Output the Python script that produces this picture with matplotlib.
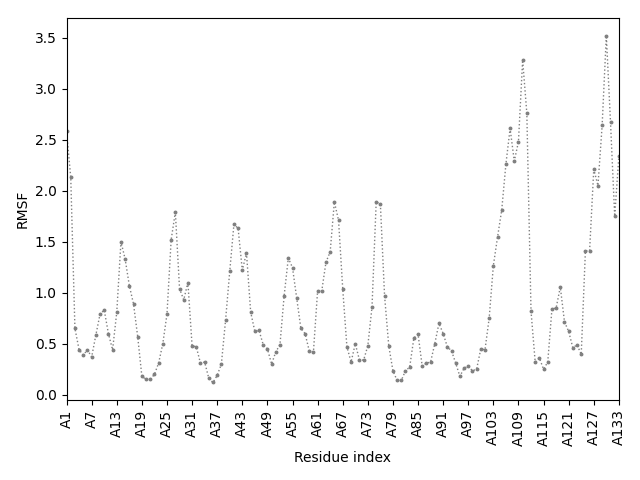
import numpy as np
import matplotlib
matplotlib.use("Agg")
import matplotlib.pyplot as plt

# RMSF per residue (A1..A133)
rmsf = [
    2.58, 2.13, 0.65, 0.44, 0.39, 0.44, 0.37, 0.585, 0.79, 0.83,
    0.60, 0.44, 0.81, 1.50, 1.33, 1.07, 0.89, 0.57, 0.18, 0.15,
    0.15, 0.20, 0.31, 0.50, 0.79, 1.52, 1.79, 1.04, 0.93, 1.10,
    0.48, 0.47, 0.31, 0.32, 0.16, 0.12, 0.19, 0.30, 0.73, 1.21,
    1.67, 1.63, 1.22, 1.39, 0.81, 0.62, 0.63, 0.49, 0.45, 0.30,
    0.42, 0.49, 0.97, 1.34, 1.245, 0.95, 0.65, 0.60, 0.43, 0.42,
    1.02, 1.02, 1.30, 1.40, 1.89, 1.71, 1.04, 0.47, 0.32, 0.50,
    0.34, 0.34, 0.48, 0.86, 1.89, 1.87, 0.97, 0.48, 0.235, 0.14,
    0.14, 0.235, 0.27, 0.555, 0.595, 0.28, 0.31, 0.32, 0.50, 0.70,
    0.60, 0.47, 0.43, 0.31, 0.18, 0.26, 0.28, 0.235, 0.25, 0.45,
    0.44, 0.75, 1.265, 1.545, 1.81, 2.26, 2.61, 2.29, 2.48, 3.28,
    2.76, 0.82, 0.32, 0.36, 0.25, 0.32, 0.84, 0.85, 1.055, 0.715,
    0.62, 0.46, 0.49, 0.395, 1.41, 1.41, 2.21, 2.05, 2.64, 3.52,
    2.67, 1.75, 2.34,
]
residues = np.arange(1, len(rmsf) + 1)
tick_pos = residues[::6]
tick_labels = [f"A{i}" for i in tick_pos]

fig, ax = plt.subplots(figsize=(6.4, 4.8), dpi=100)
ax.plot(residues, rmsf, color="gray", linestyle=":", linewidth=1,
        marker="o", markersize=1.8)
ax.set_xlim(residues[0], residues[-1])
ax.set_xticks(tick_pos)
ax.set_xticklabels(tick_labels, rotation=90)
ax.set_xlabel("Residue index")
ax.set_ylabel("RMSF")
fig.subplots_adjust(left=0.104, right=0.967, top=0.962, bottom=0.167)
fig.savefig("out.png")
